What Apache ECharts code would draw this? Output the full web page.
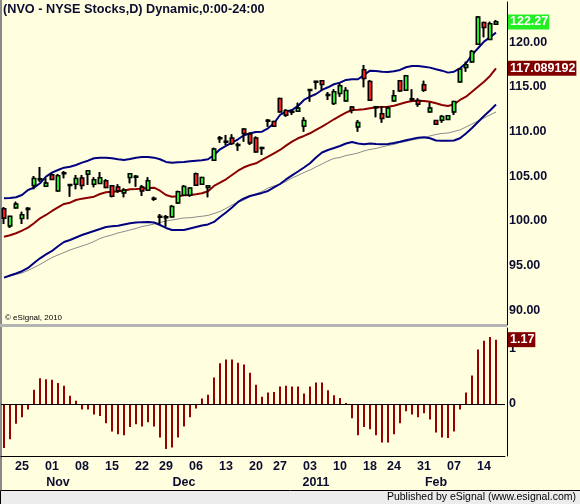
<!DOCTYPE html>
<html>
<head>
<meta charset="utf-8">
<script src="https://cdn.jsdelivr.net/npm/echarts@6/dist/echarts.min.js"></script>
<style>
  html, body { margin: 0; padding: 0; background: #ffffe0; }
  #chart { width: 580px; height: 504px; }
</style>
</head>
<body>
<div id="chart"></div>
<script>
// trading days, Oct 20 2010 .. Feb 16 2011
const dates = [
  '2010-10-20','2010-10-21','2010-10-22','2010-10-25','2010-10-26','2010-10-27','2010-10-28','2010-10-29',
  '2010-11-01','2010-11-02','2010-11-03','2010-11-04','2010-11-05',
  '2010-11-08','2010-11-09','2010-11-10','2010-11-11','2010-11-12',
  '2010-11-15','2010-11-16','2010-11-17','2010-11-18','2010-11-19',
  '2010-11-22','2010-11-23','2010-11-24','2010-11-26',
  '2010-11-29','2010-11-30','2010-12-01','2010-12-02','2010-12-03',
  '2010-12-06','2010-12-07','2010-12-08','2010-12-09','2010-12-10',
  '2010-12-13','2010-12-14','2010-12-15','2010-12-16','2010-12-17',
  '2010-12-20','2010-12-21','2010-12-22','2010-12-23',
  '2010-12-27','2010-12-28','2010-12-29','2010-12-30','2010-12-31',
  '2011-01-03','2011-01-04','2011-01-05','2011-01-06','2011-01-07',
  '2011-01-10','2011-01-11','2011-01-12','2011-01-13','2011-01-14',
  '2011-01-18','2011-01-19','2011-01-20','2011-01-21',
  '2011-01-24','2011-01-25','2011-01-26','2011-01-27','2011-01-28',
  '2011-01-31','2011-02-01','2011-02-02','2011-02-03','2011-02-04',
  '2011-02-07','2011-02-08','2011-02-09','2011-02-10','2011-02-11',
  '2011-02-14','2011-02-15','2011-02-16'
]

const opens = [101.33,99.45,101.48,100.29,101.30,103.99,104.62,103.91,105.14,103.38,
  105.30,104.00,104.13,104.77,105.25,104.13,104.21,104.47,103.91,103.76,
  103.16,104.88,104.92,103.76,103.46,102.45,100.44,100.37,100.47,102.04,
  102.90,102.90,105.25,104.13,103.76,106.82,109.22,108.84,109.25,108.47,
  110.26,109.70,109.25,108.13,111.19,111.11,113.68,112.34,112.20,112.31,
  110.63,114.63,115.56,115.67,114.07,113.17,114.29,113.46,112.72,110.55,
  116.90,115.59,112.69,111.97,111.67,113.46,115.67,114.66,113.59,113.46,
  115.22,112.23,111.22,111.30,111.38,112.23,115.59,117.20,117.83,119.81,
  122.19,120.34,122.05]
const closes = [100.33,100.50,101.86,100.66,101.38,104.73,104.70,104.21,104.66,105.03,
  105.36,104.05,104.73,103.99,105.59,104.58,104.80,103.76,102.79,103.38,
  103.43,105.25,104.98,103.38,104.47,102.51,100.50,100.43,101.59,103.24,
  103.83,103.65,104.02,104.84,103.91,108.02,109.28,108.90,108.69,108.53,
  109.81,108.76,107.75,108.19,111.25,110.63,112.23,111.86,112.26,112.61,
  111.22,114.69,115.62,115.30,114.13,114.43,115.11,114.58,112.42,111.00,
  115.97,113.54,112.75,111.49,112.61,113.99,114.58,116.23,113.65,113.09,
  114.66,112.61,110.85,111.67,111.75,113.35,116.98,117.46,118.95,122.80,
  121.68,122.05,122.27]
const lows = [99.66,99.20,101.37,99.66,100.18,103.54,104.39,103.91,104.58,103.27,
  104.77,102.71,103.54,103.54,104.02,103.76,104.13,103.65,102.64,103.16,
  102.64,104.21,103.83,102.79,103.38,102.26,99.66,99.35,100.40,101.89,
  102.79,102.71,103.91,104.02,102.64,106.71,108.76,108.50,108.50,107.86,
  108.87,108.50,107.64,107.38,110.55,110.55,112.12,111.67,111.86,112.23,
  109.99,113.35,114.74,114.66,113.54,112.98,113.91,113.35,112.05,109.99,
  114.96,113.46,111.60,111.00,111.60,113.35,114.47,114.58,113.35,112.79,
  114.47,112.12,110.75,111.00,111.30,111.86,115.48,116.71,117.72,119.70,
  120.56,120.26,122.00]
const highs = [101.55,100.55,102.15,101.03,101.52,105.03,106.04,104.77,105.33,105.25,
  105.59,104.13,105.14,105.14,105.70,104.88,105.48,104.66,104.02,104.10,
  103.65,105.30,105.14,104.02,104.88,102.71,100.77,100.66,101.78,103.38,
  104.02,103.76,105.40,104.95,103.95,108.20,109.51,109.62,109.70,108.76,
  110.37,109.88,109.44,108.30,111.41,111.22,113.80,112.50,112.42,113.24,
  111.60,114.74,115.67,115.74,114.43,114.74,115.41,114.96,112.87,111.30,
  117.46,115.78,112.87,112.87,112.87,114.66,115.78,116.34,114.74,113.73,
  115.70,113.24,111.30,111.86,111.80,113.46,117.09,117.83,119.14,122.95,
  122.31,122.31,122.50]

const upperBand = [102.53,102.57,102.64,102.90,103.46,103.72,104.21,104.95,105.40,105.70,
  105.96,106.07,106.26,106.52,106.74,107.01,107.08,107.08,107.01,106.90,
  106.82,106.93,107.08,107.16,107.16,107.08,106.90,106.60,106.52,106.56,
  106.60,106.67,106.74,106.79,106.90,107.38,108.02,108.39,108.76,109.14,
  109.59,109.81,109.96,109.99,110.37,110.93,111.86,112.23,112.42,112.87,
  113.54,113.91,114.21,114.66,114.96,115.30,115.48,115.78,115.86,115.86,
  116.34,116.82,116.79,116.71,116.67,116.75,116.90,117.20,117.35,117.35,
  117.27,117.16,116.98,116.82,116.60,116.71,117.09,117.65,118.58,119.33,
  120.07,120.56,121.08]
const midBand = [98.23,98.39,98.61,98.90,99.24,99.73,100.29,100.66,101.11,101.52,
  101.89,102.04,102.34,102.49,102.60,102.71,103.01,103.20,103.27,103.31,
  103.38,103.54,103.57,103.61,103.68,103.72,103.38,102.90,102.71,102.76,
  102.87,102.90,102.98,103.09,103.31,103.91,104.28,104.66,105.14,105.62,
  106.00,106.26,106.45,106.82,107.19,107.57,107.94,108.42,108.87,109.25,
  109.51,109.81,110.18,110.55,110.96,111.38,111.75,112.12,112.42,112.45,
  112.50,112.61,112.72,112.76,112.79,112.90,113.09,113.28,113.43,113.46,
  113.43,113.35,113.17,112.98,112.87,113.06,113.54,113.91,114.47,115.03,
  115.59,116.23,117.09]
const lowerBand = [93.64,93.89,94.11,94.36,94.73,95.29,95.81,96.24,96.63,97.16,
  97.64,97.86,98.14,98.42,98.65,98.87,99.09,99.32,99.40,99.45,
  99.60,99.74,99.81,99.86,99.88,99.82,99.54,99.21,98.98,98.98,
  98.98,99.15,99.32,99.49,99.60,99.88,100.44,100.94,101.50,102.12,
  102.51,102.79,102.96,103.13,103.35,103.74,104.13,104.64,105.09,105.53,
  105.98,106.45,107.10,107.66,107.94,108.16,108.39,108.67,108.84,108.67,
  108.58,108.67,108.61,108.58,108.61,108.72,108.87,109.03,109.17,109.32,
  109.36,109.25,109.00,108.98,108.98,109.00,109.25,109.79,110.40,111.08,
  111.75,112.36,113.04]
const grayLine = [93.64,93.83,94.00,94.17,94.45,94.78,95.12,95.51,95.90,96.18,
  96.46,96.74,96.97,97.19,97.41,97.69,98.03,98.25,98.42,98.65,
  98.81,98.98,99.15,99.37,99.49,99.65,99.82,99.99,100.10,100.21,
  100.33,100.35,100.44,100.52,100.61,100.83,101.05,101.39,101.78,102.06,
  102.34,102.73,103.01,103.29,103.68,103.91,104.10,104.41,104.80,105.09,
  105.42,105.70,106.04,106.37,106.71,106.99,107.10,107.32,107.44,107.60,
  107.83,108.00,108.11,108.28,108.44,108.56,108.78,108.89,109.06,109.17,
  109.34,109.51,109.68,109.79,109.84,110.01,110.18,110.52,110.85,111.19,
  111.52,111.86,112.20]

const histValues = [-0.80,-0.64,-0.36,-0.24,-0.10,0.26,0.47,0.45,0.44,0.38,
  0.33,0.15,0.06,-0.10,-0.10,-0.19,-0.22,-0.35,-0.50,-0.55,
  -0.57,-0.42,-0.37,-0.41,-0.33,-0.41,-0.61,-0.82,-0.79,-0.61,
  -0.41,-0.24,-0.08,0.10,0.17,0.48,0.74,0.81,0.81,0.75,
  0.72,0.57,0.35,0.13,0.21,0.22,0.32,0.33,0.32,0.32,
  0.19,0.32,0.39,0.39,0.25,0.16,0.11,0.02,-0.26,-0.57,
  -0.42,-0.46,-0.57,-0.70,-0.70,-0.55,-0.35,-0.13,-0.19,-0.24,
  -0.17,-0.28,-0.52,-0.61,-0.62,-0.50,-0.10,0.21,0.52,0.99,
  1.15,1.22,1.17]

const priceTicks = [90, 95, 100, 105, 110, 115, 120]
const histTicks = [0, 1]
const lastClose = 122.27
const lastMid = 117.089192
const lastHist = 1.17
const monthNames = ['2011','Feb','Mar','Apr','May','Jun','Jul','Aug','Sep','Oct','Nov','Dec']

// one empty slot on the right, like the eSignal margin
const cats = dates.concat([''])
const candles = dates.map((d, i) => [opens[i], closes[i], lows[i], highs[i]])

const txt = '#0c0c30'
const font = 'Liberation Sans'
const hidden = { color: 'rgba(0,0,0,0)', width: 0 }

// new week -> day label, new month -> month label
const isWeekStart = (i) => {
  if (i <= 0 || i >= dates.length) return false
  return new Date(dates[i]).getUTCDay() < new Date(dates[i - 1]).getUTCDay()
}
const isMonthStart = (i) => {
  if (i <= 0 || i >= dates.length) return false
  return dates[i].slice(5, 7) !== dates[i - 1].slice(5, 7)
}

const tagLabel = (text, bg) => ({
  show: true, position: 'end', distance: 3,
  formatter: text,
  backgroundColor: bg, color: '#fff',
  fontFamily: font, fontWeight: 'bold', fontSize: 12.5, lineHeight: 14,
  padding: [1, 1, 0, 2]
})

const chart = echarts.init(document.getElementById('chart'), null, { renderer: 'canvas' })

const option = {
  backgroundColor: '#ffffe0',
  animation: false,
  grid: [
    { left: 1, top: 2, width: 504, height: 323 },
    { left: 1, top: 328, width: 504, height: 128 }
  ],
  xAxis: [
    { type: 'category', gridIndex: 0, data: cats, show: false },
    {
      type: 'category', gridIndex: 1, data: cats,
      axisLine: { onZero: false, lineStyle: { color: '#000', width: 1 } },
      axisTick: { show: false },
      axisLabel: {
        interval: (i) => isWeekStart(i),
        formatter: (v) => v.slice(8),
        color: txt, fontFamily: font, fontWeight: 'bold', fontSize: 12.5, margin: 4
      }
    },
    {
      type: 'category', gridIndex: 1, data: cats, position: 'bottom', offset: 16,
      axisLine: { show: false }, axisTick: { show: false },
      axisLabel: {
        interval: (i) => isMonthStart(i),
        formatter: (v) => monthNames[parseInt(v.slice(5, 7), 10) - 1],
        color: txt, fontFamily: font, fontWeight: 'bold', fontSize: 12.5, margin: 4,
        padding: [0, 0, 0, 12]
      }
    }
  ],
  yAxis: [
    {
      type: 'value', gridIndex: 0, position: 'right', offset: 2,
      min: 88.34, max: 124.51,
      splitLine: { show: false },
      axisLine: { show: true, lineStyle: { color: '#000', width: 1 } },
      axisTick: { show: false },
      axisLabel: {
        customValues: priceTicks,
        formatter: (v) => v.toFixed(2),
        color: txt, fontFamily: font, fontWeight: 'bold', fontSize: 12.5, margin: 2
      }
    },
    {
      type: 'value', gridIndex: 1, position: 'right', offset: 2,
      min: -0.945, max: 1.382,
      splitLine: { show: false },
      axisLine: { show: true, lineStyle: { color: '#000', width: 1 } },
      axisTick: { show: false },
      axisLabel: {
        customValues: histTicks,
        formatter: (v) => String(v),
        color: txt, fontFamily: font, fontWeight: 'bold', fontSize: 12.5, margin: 2
      }
    }
  ],
  series: [
    {
      name: 'gray', type: 'line', xAxisIndex: 0, yAxisIndex: 0, data: grayLine,
      symbol: 'none', lineStyle: { color: '#8c8c8c', width: 1 }, z: 1
    },
    {
      name: 'upper', type: 'line', xAxisIndex: 0, yAxisIndex: 0, data: upperBand,
      symbol: 'none', lineStyle: { color: '#000080', width: 2 }, z: 2
    },
    {
      name: 'lower', type: 'line', xAxisIndex: 0, yAxisIndex: 0, data: lowerBand,
      symbol: 'none', lineStyle: { color: '#000080', width: 2 }, z: 2
    },
    {
      name: 'mid', type: 'line', xAxisIndex: 0, yAxisIndex: 0, data: midBand,
      symbol: 'none', lineStyle: { color: '#8b0000', width: 2 }, z: 2,
      markLine: {
        silent: true, symbol: ['none', 'none'], lineStyle: hidden,
        data: [{ yAxis: lastMid }],
        label: tagLabel(String(lastMid), '#800000')
      }
    },
    {
      // black layer: 2px wicks and body outline
      name: 'NVO wick', type: 'candlestick', xAxisIndex: 0, yAxisIndex: 0, data: candles,
      barWidth: 3, z: 3,
      itemStyle: {
        color: '#000', color0: '#000',
        borderColor: '#000', borderColor0: '#000', borderWidth: 2
      }
    },
    {
      name: 'NVO', type: 'candlestick', xAxisIndex: 0, yAxisIndex: 0, data: candles,
      barWidth: 4, z: 4,
      itemStyle: {
        color: '#22ee22', color0: '#ff1a1a',
        borderColor: '#000', borderColor0: '#000', borderWidth: 1
      },
      markLine: {
        silent: true, symbol: ['none', 'none'], lineStyle: hidden,
        data: [{ yAxis: lastClose }],
        label: tagLabel(lastClose.toFixed(2), '#22ee22')
      }
    },
    {
      name: 'hist', type: 'bar', xAxisIndex: 1, yAxisIndex: 1, data: histValues,
      barWidth: 2, itemStyle: { color: '#990000' },
      markLine: {
        silent: true, symbol: ['none', 'none'],
        data: [
          { yAxis: 0, lineStyle: { color: '#000', width: 1, type: 'solid' }, label: { show: false } },
          { yAxis: lastHist, lineStyle: hidden, label: tagLabel(lastHist.toFixed(2), '#800000') }
        ]
      }
    }
  ],
  graphic: [
    { type: 'rect', left: 0, top: 0, shape: { width: 2, height: 490 }, style: { fill: '#8a8a8a' }, silent: true },
    { type: 'rect', left: 0, top: 324, shape: { width: 507, height: 3 }, style: { fill: '#b4b4b4' }, silent: true },
    { type: 'rect', left: 0, top: 490, shape: { width: 580, height: 14 }, style: { fill: '#ececec', stroke: '#000', lineWidth: 1 }, silent: true },
    {
      type: 'text', left: 3, top: 3, silent: true,
      style: { text: '(NVO - NYSE Stocks,D) Dynamic,0:00-24:00', fill: txt, font: 'bold 12.7px "Liberation Sans"' }
    },
    {
      type: 'text', left: 5, top: 314, silent: true,
      style: { text: '\u00a9 eSignal, 2010', fill: '#000', font: '8px "Liberation Sans"' }
    },
    {
      type: 'text', right: 4, top: 492, silent: true,
      style: { text: 'Published by eSignal (www.esignal.com)', fill: '#000', font: '10.5px "Liberation Sans"' }
    }
  ]
}

chart.setOption(option)
window.addEventListener('resize', () => chart.resize())
</script>
</body>
</html>
